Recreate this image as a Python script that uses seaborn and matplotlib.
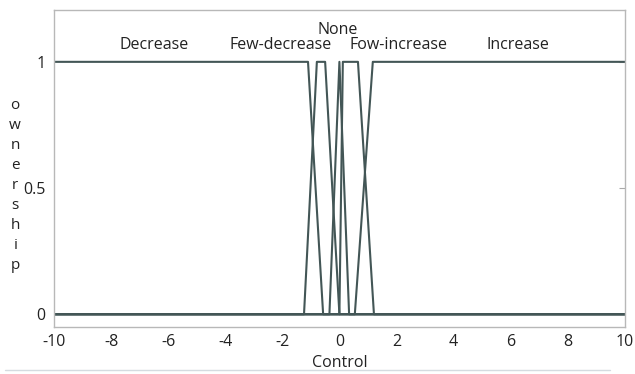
import numpy as np
import pandas as pd
import seaborn as sns
import matplotlib.pyplot as plt
from matplotlib.lines import Line2D

# membership functions (trapezoids / triangle)
set_names = ["Decrease", "Few-decrease", "None", "Fow-increase", "Increase"]
decrease_x = [-10, -1.1, -0.57, 10]
decrease_y = [1, 1, 0, 0]
few_decrease_x = [-10, -1.24, -0.79, -0.5, 0, 10]
few_decrease_y = [0, 0, 1, 1, 0, 0]
none_x = [-10, -0.35, 0, 0.34, 10]
none_y = [0, 0, 1, 0, 0]
few_increase_x = [-10, 0, 0.12, 0.65, 1.21, 10]
few_increase_y = [0, 0, 1, 1, 0, 0]
increase_x = [-10, 0.54, 1.17, 10]
increase_y = [0, 0, 1, 1]

xticks = [-10, -8, -6, -4, -2, 0, 2, 4, 6, 8, 10]
yticks = [0, 0.5, 1]
ytick_labels = ["0", "0.5", "1"]

all_x = [decrease_x, few_decrease_x, none_x, few_increase_x, increase_x]
all_y = [decrease_y, few_decrease_y, none_y, few_increase_y, increase_y]
rows = []
for name, xs, ys in zip(set_names, all_x, all_y):
    for i, (a, b) in enumerate(zip(xs, ys)):
        rows.append({"set": name, "order": i, "Control": a, "ownership": b})
df = pd.DataFrame(rows)

sns.set_style("white")
plt.rcParams['font.family'] = ['Open Sans', 'DejaVu Sans']

fig = plt.figure(figsize=(6.35, 3.74), dpi=100)
ax = fig.add_axes([0.085, 0.126, 0.899, 0.847])

line_col = "#435656"
sns.lineplot(data=df, x="Control", y="ownership", hue="set", units="set",
             estimator=None, sort=False, palette=[line_col] * 5,
             linewidth=1.5, legend=False, ax=ax)

ax.set_xlim(-10, 10)
ax.set_ylim(-0.05, 1.205)
ax.set_xticks(xticks)
ax.set_xticklabels([str(t) for t in xticks])
ax.set_yticks(yticks)
ax.set_yticklabels(ytick_labels)
ax.tick_params(axis="x", length=0, labelsize=11.5, pad=5, colors="#222222")
ax.tick_params(axis="y", length=4, direction="in", labelsize=11.5, pad=6,
               color="#aaaaaa", labelcolor="#222222", right=True)
for s in ax.spines.values():
    s.set_color("#b8b8b8")
    s.set_linewidth(1)

ax.set_xlabel("Control", fontsize=11.5, labelpad=4, color="#222222")
ax.set_ylabel("")

# set names above the plateaus
label_pos = [(-6.5, 1.065), (-2.07, 1.065), (-0.05, 1.128), (2.08, 1.065), (6.27, 1.065)]
for name, (lx, ly) in zip(set_names, label_pos):
    ax.text(lx, ly, name, ha="center", va="center", fontsize=11.5, color="#222222")

fig.text(0.024, 0.504, "\n".join("ownership"), ha="center", va="center",
         fontsize=11, linespacing=1.45, color="#222222")

fig.add_artist(Line2D([0.008, 0.96], [0.01, 0.01], color="#d5dbe0", lw=1))

fig.savefig("out.png", dpi=100)
